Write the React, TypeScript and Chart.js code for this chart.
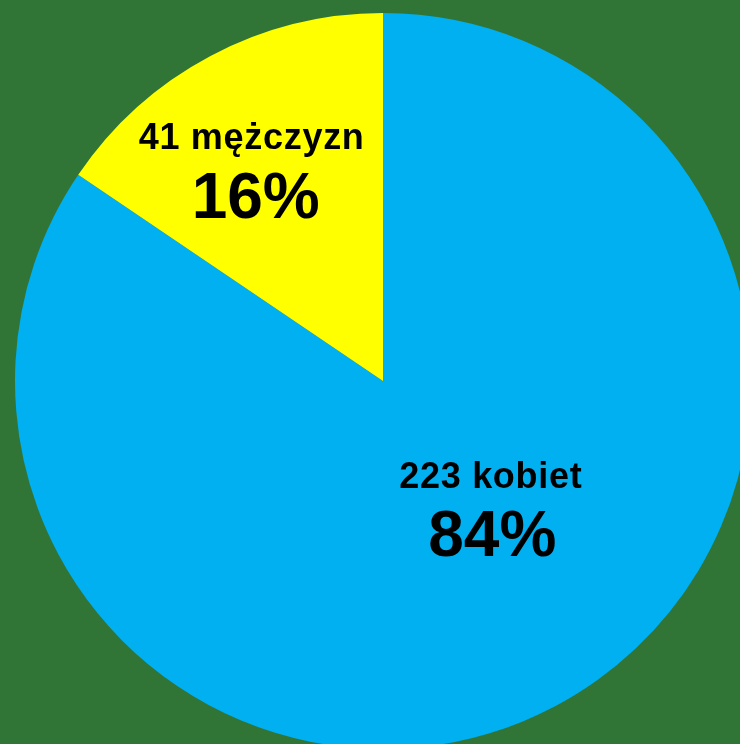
import React, { useEffect, useRef } from "react";
import { Chart, registerables } from "chart.js";

Chart.register(...registerables);

const categories = ["kobiet", "mężczyzn"];
const counts = [223, 41];
const percentLabels = ["84%", "16%"];
const sliceColors = ["#00b0f0", "#ffff00"];
// label anchor offsets relative to the pie centre, as fractions of the radius
const labelLine1X = [0.293, -0.357];
const labelLine2X = [0.297, -0.346];
const labelLine1Y = [0.291, -0.63];
const labelLine2Y = [0.476, -0.443];

const BG = "#317536";

const labelPlugin = {
  id: "sliceLabels",
  afterDatasetsDraw(chart: any) {
    const meta = chart.getDatasetMeta(0);
    const ctx = chart.ctx;
    ctx.save();
    ctx.fillStyle = "#000000";
    ctx.textAlign = "center";
    ctx.textBaseline = "alphabetic";
    meta.data.forEach((arc: any, i: number) => {
      const { x, y, outerRadius } = arc.getProps(["x", "y", "outerRadius"], true);
      ctx.font = "bold 36px 'Liberation Sans', Arial, sans-serif";
      (ctx as any).letterSpacing = "0.7px";
      ctx.fillText(
        `${counts[i]} ${categories[i]}`,
        x + labelLine1X[i] * outerRadius,
        y + labelLine1Y[i] * outerRadius
      );
      (ctx as any).letterSpacing = "0px";
      ctx.font = "bold 64px 'Liberation Sans', Arial, sans-serif";
      ctx.fillText(percentLabels[i], x + labelLine2X[i] * outerRadius, y + labelLine2Y[i] * outerRadius);
    });
    ctx.restore();
  },
};

export default function App() {
  const ref = useRef<HTMLCanvasElement | null>(null);
  useEffect(() => {
    document.body.style.margin = "0";
    document.body.style.background = BG;
    const chart = new Chart(ref.current as HTMLCanvasElement, {
      type: "pie",
      data: {
        labels: categories,
        datasets: [
          {
            data: counts,
            backgroundColor: sliceColors,
            borderWidth: 0,
          },
        ],
      },
      options: {
        animation: false,
        responsive: false,
        devicePixelRatio: 1,
        layout: { padding: { left: 15, right: 15, top: 13, bottom: 13 } },
        plugins: {
          legend: { display: false },
          tooltip: { enabled: false },
        },
      },
      plugins: [labelPlugin],
    });
    return () => chart.destroy();
  }, []);
  return (
    <div style={{ width: 740, height: 744, overflow: "hidden", background: BG, position: "relative" }}>
      <canvas ref={ref} width={766} height={762} style={{ display: "block", width: 766, height: 762 }} />
    </div>
  );
}
